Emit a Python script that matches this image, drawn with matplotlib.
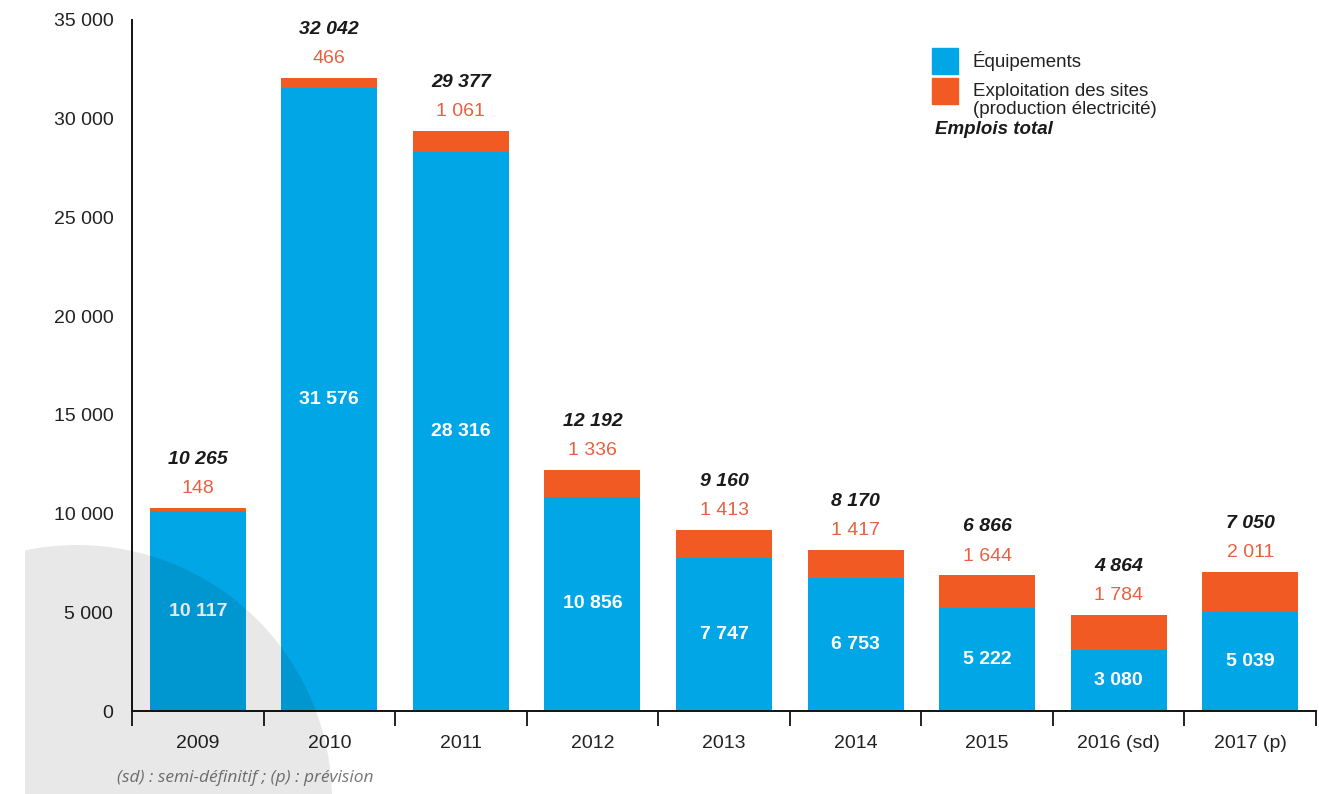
import numpy as np
import matplotlib.pyplot as plt
from matplotlib.patches import Ellipse, Rectangle

# Données (emplois)
annees = ['2009', '2010', '2011', '2012', '2013', '2014', '2015', '2016 (sd)', '2017 (p)']
equipements = [10117, 31576, 28316, 10856, 7747, 6753, 5222, 3080, 5039]
exploitation = [148, 466, 1061, 1336, 1413, 1417, 1644, 1784, 2011]
totaux = [10265, 32042, 29377, 12192, 9160, 8170, 6866, 4864, 7050]

BLEU = '#00A6E6'
ORANGE = '#F15A22'
ORANGE_TXT = '#E9603F'
W, H = 1319, 794

plt.rcParams['font.family'] = ['Liberation Sans', 'DejaVu Sans']


def fmt(v):
    return f'{v:,}'.replace(',', ' ')


fig = plt.figure(figsize=(W / 100, H / 100), dpi=100)
ax = fig.add_axes([132 / W, 1 - 711 / H, (1316 - 132) / W, (711 - 20) / H])

x = np.arange(len(annees))
ax.bar(x, equipements, width=0.73, color=BLEU)
ax.bar(x, exploitation, bottom=equipements, width=0.73, color=ORANGE)
ax.set_xlim(-0.5, len(annees) - 0.5)
ax.set_ylim(0, 35000)

# Etiquettes
for xi, e, o, t in zip(x, equipements, exploitation, totaux):
    ax.annotate(fmt(e), (xi, e / 2), ha='center', va='center',
                color='white', fontweight='bold', fontsize=14)
    ax.annotate(fmt(o), (xi, e + o), xytext=(0, 14), textcoords='offset points',
                ha='center', va='center', color=ORANGE_TXT, fontsize=14)
    ax.annotate(fmt(t), (xi, e + o), xytext=(0, 35), textcoords='offset points',
                ha='center', va='center', color='#1a1a1a', fontsize=14,
                fontweight='bold', fontstyle='italic')

# Axes
for s in ['top', 'right']:
    ax.spines[s].set_visible(False)
for s in ['left', 'bottom']:
    ax.spines[s].set_linewidth(1.4)
    ax.spines[s].set_color('#111111')

yt = range(0, 35001, 5000)
ax.set_yticks(list(yt), [fmt(v) for v in yt])
ax.tick_params(axis='y', length=0, pad=13.5, labelsize=14, labelcolor='#222222')
ax.set_xticks(x, annees)
ax.set_xticks(np.arange(-0.5, len(annees), 1), minor=True)
ax.tick_params(axis='x', which='major', length=0, pad=17, labelsize=14, labelcolor='#222222')
ax.tick_params(axis='x', which='minor', length=11, width=1.3, color='#111111')

# Légende
fig.add_artist(Rectangle((932 / W, 1 - 74 / H), 26 / W, 26 / H,
                         transform=fig.transFigure, color=BLEU))
fig.add_artist(Rectangle((932 / W, 1 - 104 / H), 26 / W, 26 / H,
                         transform=fig.transFigure, color=ORANGE))
fig.text(973 / W, 1 - 61 / H, 'Équipements', fontsize=13.5, va='center', color='#222222')
fig.text(973 / W, 1 - 91 / H, 'Exploitation des sites', fontsize=13.5, va='center', color='#222222')
fig.text(973 / W, 1 - 110 / H, '(production électricité)', fontsize=13.5, va='center', color='#222222')
fig.text(935 / W, 1 - 130 / H, 'Emplois total', fontsize=13.5, va='center', color='#1a1a1a',
         fontweight='bold', fontstyle='italic')

# Note
fig.text(117 / W, 1 - 778 / H, '(sd) : semi-définitif ; (p) : prévision',
         family=['Open Sans', 'DejaVu Sans'], fontstyle='italic', fontsize=12.5,
         color='#777777', va='center')

# Disque gris décoratif
disque = Ellipse((77 / W, 1 - 800 / H), 2 * 255 / W, 2 * 255 / H,
                 transform=fig.transFigure, facecolor='black', edgecolor='none',
                 alpha=0.09, zorder=5)
clip = Rectangle((25 / W, 0), 1, 1, transform=fig.transFigure)
disque.set_clip_path(clip)
fig.add_artist(disque)

fig.savefig('out.png', dpi=100)
